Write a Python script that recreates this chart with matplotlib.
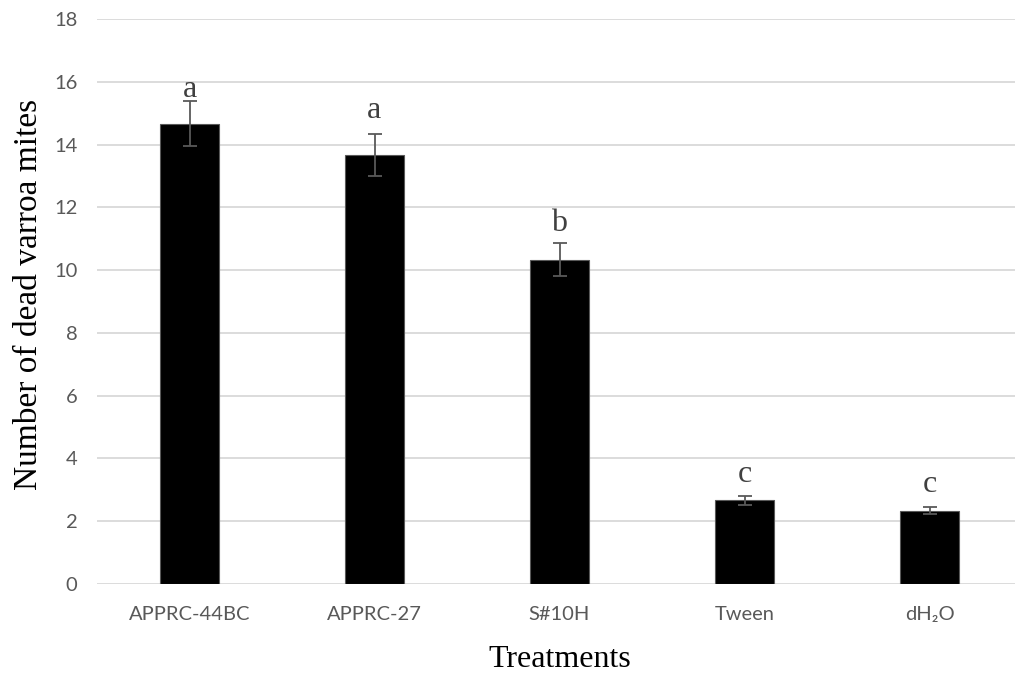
import matplotlib
matplotlib.use("Agg")
import matplotlib.pyplot as plt

# treatment data (mean dead mites, standard error, significance letter)
treatments = ["APPRC-44BC", "APPRC-27", "S#10H", "Tween", "dH\u2082O"]
means = [14.67, 13.67, 10.33, 2.67, 2.33]
errors = [0.72, 0.68, 0.52, 0.14, 0.11]
letters = ["a", "a", "b", "c", "c"]
# gap (points) between error bar top and letter
letter_gap = [2.5, 11, 9, 10, 11]

fig = plt.figure(figsize=(10.15, 6.73), dpi=100)
ax = fig.add_axes([97 / 1015, 89 / 673, 925 / 1015, 565 / 673])

x = range(len(treatments))
ax.bar(x, means, width=0.315, color="black", edgecolor="#595959", linewidth=0.8, zorder=3)
ax.errorbar(x, means, yerr=errors, fmt="none", ecolor="#595959", elinewidth=1.3,
            capsize=5, capthick=1.3, zorder=4)

for i, (m, e, lab) in enumerate(zip(means, errors, letters)):
    ax.annotate(lab, (i, m + e), xytext=(0, letter_gap[i]), textcoords="offset points",
                ha="center", va="baseline", fontsize=23, color="#404040",
                family="Liberation Serif", zorder=5)

ax.set_xlim(-0.5, 4.5)
ax.set_ylim(0, 18)
ax.set_yticks(range(0, 19, 2))
ax.set_xticks(list(x))
ax.set_xticklabels(treatments)
ax.yaxis.grid(True, color="#d9d9d9", linewidth=1.3, zorder=0)
ax.set_axisbelow(True)
for s in ax.spines.values():
    s.set_visible(False)
ax.tick_params(axis="both", length=0, labelsize=14.5, labelcolor="#595959")
ax.tick_params(axis="y", pad=14)
ax.tick_params(axis="x", pad=16)
for t in ax.get_xticklabels() + ax.get_yticklabels():
    t.set_family("Lato")

ax.set_ylabel("Number of dead varroa mites", family="Liberation Serif", fontsize=24)
ax.yaxis.set_label_coords(-0.057, 0.512)
ax.set_xlabel("Treatments", family="Liberation Serif", fontsize=23, labelpad=16)

fig.savefig("out.png", dpi=100)
